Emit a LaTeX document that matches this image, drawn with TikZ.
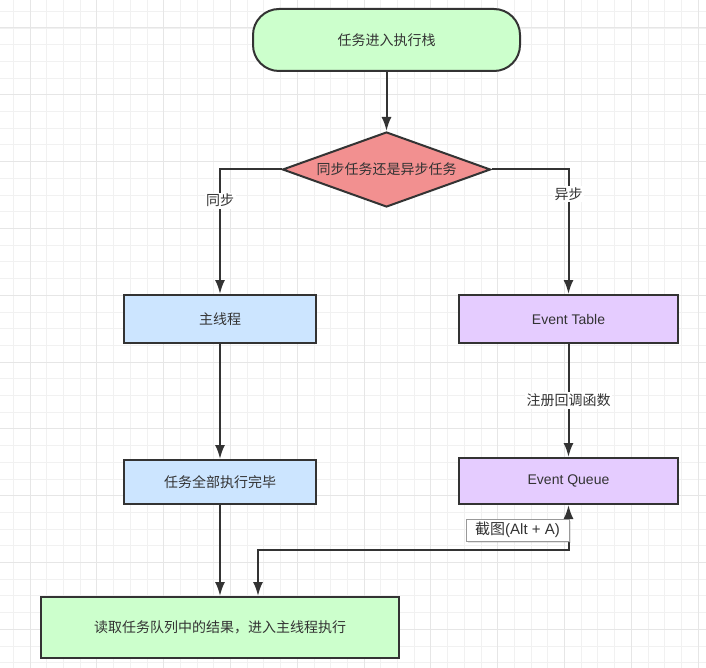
\documentclass[tikz,border=0pt]{standalone}
\usepackage{fontspec}
\setmainfont{Liberation Sans}
\newfontfamily\cjk{Noto Sans CJK SC}
\usetikzlibrary{arrows.meta, positioning, shapes.geometric, shadows}

\definecolor{linegray}{HTML}{333333}
\definecolor{textgray}{HTML}{333333}
\definecolor{startgreen}{HTML}{CCFFCC}
\definecolor{choicered}{HTML}{F29090}
\definecolor{mainblue}{HTML}{CCE5FF}
\definecolor{eventpurple}{HTML}{E5CCFF}
\definecolor{minorgrid}{HTML}{F1F1F1}
\definecolor{majorgrid}{HTML}{E6E6E6}

\newcommand\zh{\cjk\fontsize{14}{17}\selectfont}
\newcommand\en{\normalfont\fontsize{14}{17}\selectfont}

\begin{document}
\begin{tikzpicture}[
    x=1pt, y=-1pt,
    >={Latex[length=14pt,width=10pt]},
    box/.style={rectangle, draw=linegray, line width=2pt, text=textgray, inner sep=0pt},
    terminal/.style={box, rounded corners=26pt, fill=startgreen,
        minimum width=267pt, minimum height=62pt, font=\zh},
    choice/.style={box, diamond, aspect=2.77, fill=choicered,
        minimum width=208pt, minimum height=75pt, font=\zh},
    mainbox/.style={box, fill=mainblue, minimum width=192pt, font=\zh},
    eventbox/.style={box, fill=eventpurple, minimum width=219pt, font=\en},
    endbox/.style={box, fill=startgreen, minimum width=358pt, minimum height=61pt, font=\zh},
    flow/.style={->, draw=linegray, line width=2pt},
    edgelabel/.style={fill=white, text=textgray, font=\zh, inner sep=1.5pt},
    tip/.style={rectangle, draw=gray!80, fill=white, line width=0.8pt, text=textgray,
        minimum width=103pt, minimum height=22pt, inner sep=0pt,
        drop shadow={opacity=0.2, shadow xshift=1.5pt, shadow yshift=-1.5pt}}]

    % background grid
    \useasboundingbox (0,0) rectangle (706,668);
    \fill[white] (0,0) rectangle (706,668);
    \foreach \i in {0,...,41}
        \draw[minorgrid, line width=0.8pt] ({13.3+16.7*\i},0) -- ({13.3+16.7*\i},668);
    \foreach \i in {0,...,39}
        \draw[minorgrid, line width=0.8pt] (0,{11.3+16.7*\i}) -- (706,{11.3+16.7*\i});
    \foreach \i in {0,...,10}
        \draw[majorgrid, line width=1pt] ({30+66.8*\i},0) -- ({30+66.8*\i},668);
    \foreach \i in {0,...,9}
        \draw[majorgrid, line width=1pt] (0,{28+66.8*\i}) -- (706,{28+66.8*\i});

    % nodes
    \node[terminal] (s_1) at (386.5,40) {任务进入执行栈};

    \node[choice] (c_1) [below=59pt of s_1] {同步任务还是异步任务};

    \node[mainbox, minimum height=48pt] (m_1) at (220,319) {主线程};
    \node[mainbox, minimum height=44pt] (m_2) [below=115pt of m_1] {任务全部执行完毕};

    \node[eventbox, minimum height=48pt] (e_1) at (568.5,319) {Event Table};
    \node[eventbox, minimum height=46pt] (e_2) [below=113pt of e_1] {Event Queue};

    \node[endbox] (r_1) at (220,627.5) {读取任务队列中的结果，进入主线程执行};

    \coordinate (k_1) at (258,550);

    % connectors
    \draw[flow] (s_1) -- (c_1);
    \draw[flow] (c_1.west) -| node[edgelabel, pos=0.625] {同步} (m_1.north);
    \draw[flow] (c_1.east) -| node[edgelabel, pos=0.6] {异步} (e_1.north);

    \draw[flow] (m_1) -- (m_2);
    \draw[flow] (m_2) -- (r_1.north -| m_2);

    \draw[flow] (e_1) -- node[edgelabel] {注册回调函数} (e_2);
    \draw[flow, <->] (r_1.north -| k_1) -- (k_1) -| (e_2.south);

    \node[tip] (t_1) at (517.5,530)
        {\fontsize{15}{17}\selectfont{\cjk 截图}(Alt + A)};

\end{tikzpicture}
\end{document}
